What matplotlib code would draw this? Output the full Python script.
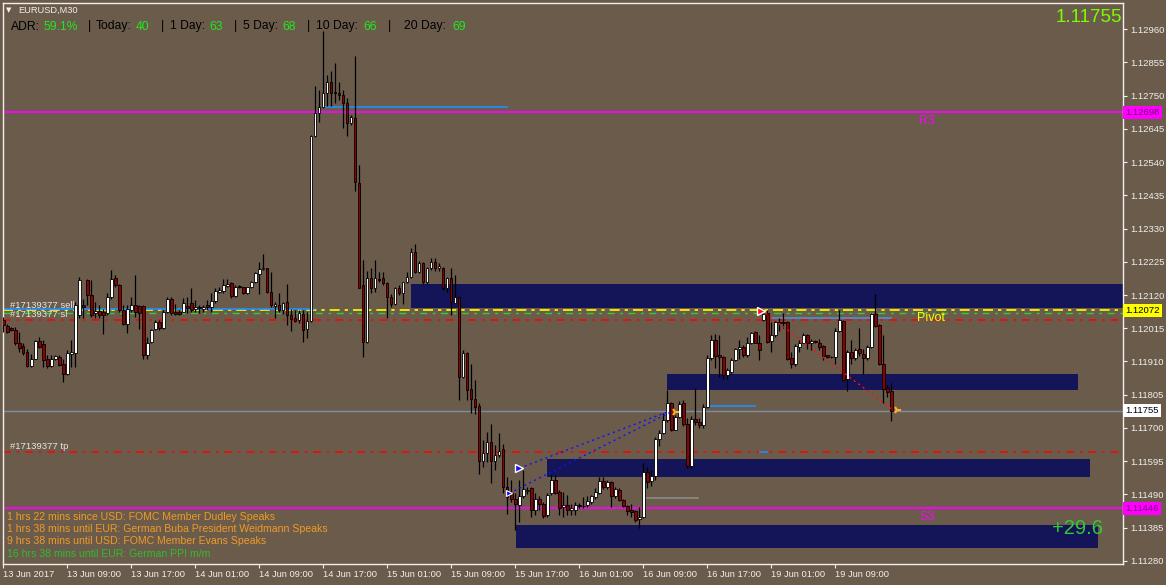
import matplotlib
matplotlib.use("Agg")
import matplotlib.pyplot as plt
from matplotlib.patches import Rectangle
import matplotlib.transforms as mtransforms

plt.rcParams['font.family'] = ['Liberation Sans', 'DejaVu Sans']

# EURUSD M30 candles, values in 0.00001 above 1.12000 (bar 0 = 13 Jun 01:00)
BASE = 1.12000
OPEN = [40, 23, 16, 9, -33, -41, -60, -104, -81, -26, -36, -83, -104, -83, -77, -97, -131, -67, -62, 56,
        90, 167, 120, 62, 69, 65, 62, 114, 174, 153, 72, 30, 72, 88, 86, 86, -70, -28, 12, 35,
        16, 65, 107, 67, 65, 67, 86, 96, 75, 83, 75, 88, 83, 101, 130, 132, 149,
        157, 118, 147, 144, 126, 144, 160, 186, 201, 204, 129, 84, 89, 72, 97, 57, 49, 41, 59,
        13, 38, 624, 695, 713, 758, 793, 763, 760, 753, 726, 663, 679, 473, 152, -27, 175, 141, 171, 173,
        157, 115, 91, 141, 126, 160, 178, 255, 194, 220, 160, 207, 226, 205, 207, 141, 175,
        96, 113, -138, -64, -178, -210, -231, -404, -378, -344, -404, -386, -365, -486, -507, -526, -543, -515, -499, -491,
        -558, -523, -539, -576, -507, -465, -502, -549, -542, -558, -558, -545, -546, -544, -533, -518, -505, -467, -488, -470,
        -515, -496, -528, -547, -558, -562, -589, -583, -439, -467, -452, -336, -315, -275, -222, -305, -265,
        -222, -286, -420, -272, -280, -291, -233, -80, -22, -68, -75, -133, -124, -86, -49, -43, -70, -30, 2, -30,
        42, 62, -25, -6, 34, 34, 34, -80, -99, -43, -30, -6, -33, -25, -30, -41, -70, -75, -75, 6,
        38, -144, -61, -78, -51, -66, -80, -43, 59, 25, -99, -175, -184]
HIGH = [51, 30, 19, 19, 4, -30, -49, -65, -23, -12, -23, -70, -70, -70, -70, -81, -54, -23, 98, 177,
        109, 172, 167, 98, 88, 77, 125, 199, 183, 156, 88, 88, 114, 183, 88, 88, -12, 14, 40, 40,
        72, 114, 114, 93, 72, 111, 114, 143, 104, 88, 88, 104, 125, 141, 146, 172, 172,
        162, 152, 152, 147, 147, 165, 194, 224, 249, 207, 194, 99, 126, 99, 154, 76, 73, 73, 73,
        68, 626, 782, 768, 953, 816, 829, 853, 793, 767, 742, 689, 877, 531, 231, 196, 205, 231, 194, 194,
        162, 122, 147, 152, 162, 194, 270, 280, 228, 224, 210, 236, 238, 220, 210, 178, 205,
        183, 115, -54, -59, -98, -149, -222, -338, -312, -286, -354, -317, -351, -456, -463, -507, -465, -433, -488, -488,
        -507, -515, -533, -507, -449, -449, -496, -502, -512, -539, -533, -538, -518, -515, -512, -491, -456, -454, -463, -467,
        -488, -491, -523, -544, -539, -558, -549, -412, -423, -433, -328, -305, -252, -180, -217, -259, -215,
        -212, -270, -262, -175, -270, -225, -70, -6, -4, -6, -72, -112, -80, -47, -22, -38, -12, 4, 6, -6,
        62, 73, 36, 41, 46, 62, 38, -59, -36, -22, -1, -4, -19, -22, -19, -38, -68, -73, 15, 73,
        41, -54, -22, -47, 17, -49, -38, 62, 122, 30, -6, -165, -159]
LOW = [4, 1, 6, -39, -60, -70, -107, -107, -83, -47, -107, -112, -107, -86, -104, -155, -133, -107, -107, 46,
       46, 88, 51, 46, 46, -2, 56, 109, 146, 67, 25, 1, 67, 51, 14, -81, -83, -33, 9, 9,
       12, 62, 58, 58, 56, 65, 62, 67, 67, 62, 67, 72, 67, 96, 125, 128, 146,
       110, 115, 142, 122, 122, 141, 157, 122, 199, 126, 83, 49, 65, 59, 25, 6, 36, 31, -27,
       -17, 36, 620, 668, 710, 716, 719, 726, 737, 649, 624, 658, 449, 141, -75, -32, 126, 131, 162, 152,
       47, 83, 87, 120, 91, 157, 173, 189, 189, 154, 154, 199, 196, 196, 136, 131, 57,
       94, -212, -143, -212, -254, -256, -444, -423, -407, -473, -433, -391, -507, -572, -533, -623, -597, -520, -510, -581,
       -576, -558, -586, -581, -512, -509, -576, -583, -576, -576, -576, -552, -554, -550, -539, -523, -509, -494, -494, -549,
       -520, -530, -549, -576, -581, -597, -615, -586, -491, -484, -463, -357, -319, -280, -309, -305, -268,
       -295, -427, -427, -291, -300, -300, -238, -85, -112, -138, -144, -146, -131, -89, -82, -75, -75, -36, -33, -86,
       38, -30, -59, -12, 6, 15, -85, -110, -103, -59, -33, -51, -54, -30, -54, -86, -78, -80, -99, 2,
       -152, -183, -99, -86, -72, -128, -86, -47, 20, -101, -222, -201, -278]
CLOSE = [25, 4, 8, -30, -47, -62, -104, -81, -26, -44, -86, -104, -81, -73, -100, -131, -62, -60, 88, 167,
         83, 120, 56, 69, 58, 56, 114, 172, 153, 72, 30, 75, 88, 65, 62, -70, -30, 9, 35, 16,
         67, 107, 62, 60, 60, 96, 80, 72, 83, 79, 83, 83, 101, 132, 135, 151, 156,
         118, 147, 146, 126, 144, 160, 189, 201, 204, 129, 89, 91, 72, 94, 57, 44, 38, 62, 10,
         38, 624, 695, 713, 758, 793, 758, 760, 751, 726, 663, 684, 477, 143, -27, 175, 143, 173, 168, 157,
         115, 91, 141, 126, 160, 178, 255, 194, 220, 160, 207, 226, 205, 212, 141, 175, 97,
         113, -138, -64, -180, -210, -235, -404, -378, -344, -404, -386, -372, -486, -518, -526, -541, -515, -494, -496, -558,
         -523, -539, -579, -512, -465, -505, -554, -542, -558, -552, -544, -548, -548, -531, -515, -502, -467, -488, -470, -515,
         -494, -528, -547, -562, -565, -591, -581, -439, -470, -452, -336, -315, -275, -222, -307, -265, -225,
         -286, -420, -272, -280, -291, -233, -80, -22, -72, -75, -133, -117, -86, -51, -43, -70, -30, -1, -30, -54,
         59, -28, -6, 36, 33, 33, -82, -99, -40, -30, -6, -33, -25, -27, -43, -72, -75, -76, 6, 41,
         -149, -59, -78, -54, -64, -80, -43, 59, 23, -99, -177, -186, -245]

# chart levels
R3, S3, PIVOT = 1.12698, 1.11446, 1.12072
DAY_LINE = 1.12063
SELL_PRICE, SL_PRICE, TP_PRICE = 1.12076, 1.12041, 1.11624
BID = 1.11755
PRICE_TICKS = [1.12960, 1.12855, 1.12750, 1.12645, 1.12540, 1.12435, 1.12330, 1.12225, 1.12120,
               1.12015, 1.11910, 1.11805, 1.11700, 1.11595, 1.11490, 1.11385, 1.11280]
TIME_TICKS = [0, 16, 32, 48, 64, 80, 96, 112, 128, 144, 160, 176, 192, 208]
TIME_LABELS = ["13 Jun 2017", "13 Jun 09:00", "13 Jun 17:00", "14 Jun 01:00", "14 Jun 09:00",
               "14 Jun 17:00", "15 Jun 01:00", "15 Jun 09:00", "15 Jun 17:00", "16 Jun 01:00",
               "16 Jun 09:00", "16 Jun 17:00", "19 Jun 01:00", "19 Jun 09:00"]
# supply/demand zones: start bar, end bar, low, high
ZONES = [(101.9, 285, 1.12080, 1.12155), (165.9, 268.7, 1.11820, 1.11872),
         (135.9, 271.7, 1.11546, 1.11602), (128.1, 273.7, 1.11320, 1.11393)]
# short level segments: start bar, end bar, price, colour
SEGMENTS = [(-1, 77.7, SELL_PRICE, "#1E90FF"), (80.4, 125.9, 1.12714, "#1E90FF"),
            (176.4, 187.9, 1.11769, "#1E90FF"), (192.2, 221.9, 1.12046, "#4A90D9"),
            (160.4, 173.7, 1.11478, "#8C8C8C"), (189.2, 191.0, TP_PRICE, "#1E90FF")]
# closed trades: (bar, price) -> (bar, price), colour
TRADES = [((129.0, 1.11573), (166.5, 1.11753), "#1010FF"),
          ((126.5, 1.11494), (166.8, 1.11750), "#1010FF"),
          ((190.5, 1.12063), (222.3, 1.11757), "#FF1010")]
ADR = [("ADR:", 0, 11), ("59.1%", 1, 43), ("|", 0, 88), ("Today:", 0, 96), ("40", 1, 136),
       ("|", 0, 161), ("1 Day:", 0, 170), ("63", 1, 209), ("|", 0, 234), ("5 Day:", 0, 243),
       ("68", 1, 282), ("|", 0, 307), ("10 Day:", 0, 316), ("66", 1, 363), ("|", 0, 388),
       ("20 Day:", 0, 404), ("69", 1, 452)]
NEWS = ["1 hrs 22 mins since USD: FOMC Member Dudley Speaks",
        "1 hrs 38 mins until EUR: German Buba President Weidmann Speaks",
        "9 hrs 38 mins until USD: FOMC Member Evans Speaks",
        "16 hrs 38 mins until EUR: German PPI m/m"]
NEWS_COLORS = ["#EE9A28", "#EE9A28", "#EE9A28", "#2EBD2E"]

BG = "#6B5B4B"
FG = "#F0F0F0"
W, H = 1166, 585

fig = plt.figure(figsize=(W / 100, H / 100), dpi=100, facecolor=BG)
ax = fig.add_axes([3 / W, 21 / H, 1120 / W, 561 / H], facecolor=BG)
ax.set_xlim(-0.1, 279.9)
ax.set_ylim(1.11270, 1.13043)

def px(x, y):
    return x / W, 1 - y / H

# zones
for x0, x1, lo, hi in ZONES:
    ax.add_patch(Rectangle((x0, lo), x1 - x0, hi - lo, color="#141458", lw=0, zorder=1))

# horizontal levels
ax.axhline(R3, color="#FF00FF", lw=1.3, zorder=2)
ax.axhline(S3, color="#FF00FF", lw=1.3, zorder=2)
ax.axhline(BID, color="#7A8FA6", lw=1.0, zorder=2)
ax.axhline(PIVOT, color="#FFFF00", lw=1.2, ls=(0, (6, 3, 2, 3)), zorder=2)
ax.axhline(DAY_LINE, color="#32CD32", lw=1.0, ls=(0, (5, 4, 2, 4)), zorder=2)
ax.axhline(SL_PRICE, color="#FF0000", lw=1.1, ls=(0, (5, 4, 1.5, 4)), zorder=2)
ax.axhline(TP_PRICE, color="#FF0000", lw=1.1, ls=(0, (5, 4, 1.5, 4)), zorder=2)
for x0, x1, p, c in SEGMENTS:
    ax.plot([x0, x1], [p, p], color=c, lw=1.2, zorder=2)

# candles
xs = list(range(len(OPEN)))
o = [BASE + v / 1e5 for v in OPEN]
h = [BASE + v / 1e5 for v in HIGH]
l = [BASE + v / 1e5 for v in LOW]
c = [BASE + v / 1e5 for v in CLOSE]
ax.vlines(xs, l, h, color="black", lw=0.9, zorder=3)
bottoms = [min(a, b) for a, b in zip(o, c)]
heights = [max(abs(b - a), 0.000012) for a, b in zip(o, c)]
cols = ["#FFFFFF" if b >= a else "#8B0000" for a, b in zip(o, c)]
ax.bar(xs, heights, bottom=bottoms, width=0.55, color=cols, edgecolor="black", linewidth=0.6, zorder=4)

# trade history
for (xa, ya), (xb, yb), col in TRADES:
    ax.plot([xa, xb], [ya, yb], color=col, lw=1.0, ls=(0, (1.5, 2.5)), zorder=5)
ax.plot([TRADES[0][0][0]], [TRADES[0][0][1]], marker=">", ms=6, color="#1010FF", mec="white", mew=1, zorder=6)
ax.plot([TRADES[1][0][0]], [TRADES[1][0][1]], marker=">", ms=4, color="#1010FF", mec="white", mew=0.8, zorder=6)
ax.plot([189.3], [TRADES[2][0][1] + 0.00006], marker=">", ms=6, color="#FF1010", mec="white", mew=1, zorder=6)
for (xa, ya), (xb, yb), col in TRADES[1:]:
    ax.plot([xb + 1], [yb], marker="4", ms=6, color="#FFB020", mew=1.5, zorder=6)

# level names
ax.annotate("R3", (229, R3), xytext=(0, -2), textcoords="offset points", color="#FF00FF", fontsize=9, va="top")
ax.annotate("S3", (229, S3), xytext=(0, -2), textcoords="offset points", color="#FF00FF", fontsize=9, va="top")
ax.annotate("Pivot", (228.4, PIVOT), xytext=(0, -1.5), textcoords="offset points", color="#FFFF00", fontsize=9, va="top")
for p, lbl, dy in [(SELL_PRICE, "#17139377 sell", 2.2), (SL_PRICE, "#17139377 sl", 4.3), (TP_PRICE, "#17139377 tp", 4.3)]:
    ax.annotate(lbl, (1.7, p), xytext=(0, dy), textcoords="offset points", color="#E6E6E6",
                fontsize=6.8, va="center")

# axes styling
for s in ax.spines.values():
    s.set_color(FG)
    s.set_linewidth(1.0)
ax.yaxis.tick_right()
ax.set_yticks(PRICE_TICKS)
ax.set_yticklabels([f"{p:.5f}" for p in PRICE_TICKS])
ax.set_xticks(TIME_TICKS)
ax.set_xticklabels(TIME_LABELS)
for t in ax.get_xticklabels():
    t.set_horizontalalignment("left")
ax.tick_params(axis="y", direction="out", length=3, width=0.8, colors=FG, labelsize=6.8, pad=2)
ax.tick_params(axis="x", direction="out", length=3, width=0.8, colors=FG, labelsize=6.7, pad=1)

# price boxes on the right scale
tr = mtransforms.blended_transform_factory(ax.transAxes, ax.transData)
for p, fc, tc in [(R3, "#FF00FF", "#7A007A"), (PIVOT, "#FFFF00", "#000000"),
                  (BID, "#FFFFFF", "#000000"), (S3, "#FF00FF", "#7A007A")]:
    ax.text(1.002, p, f"{p:.5f}", transform=tr, fontsize=6.8, color=tc, va="center", ha="left",
            bbox=dict(boxstyle="square,pad=0.22", fc=fc, ec="none"), clip_on=False, zorder=10)

# header texts
fig.text(*px(6, 10), "\u25bc", color=FG, fontsize=5, va="center", family=["DejaVu Sans"])
fig.text(*px(18, 10), "EURUSD,M30", color=FG, fontsize=6.7, va="center")
for txt, green, x in ADR:
    fig.text(*px(x, 26.5), txt, color="#1FE81F" if green else "#000000", fontsize=8.7, va="center")
fig.text(*px(1122, 18), f"{BID:.5f}", color="#7CFC00", fontsize=13.5, va="center", ha="right")
fig.text(*px(1103, 528), "+29.6", color="#36C836", fontsize=14.5, va="center", ha="right")
for k, (txt, col) in enumerate(zip(NEWS, NEWS_COLORS)):
    fig.text(*px(7, 517 + 12.2 * k), txt, color=col, fontsize=7.6, va="center")

fig.savefig("out.png", dpi=100, facecolor=BG)
